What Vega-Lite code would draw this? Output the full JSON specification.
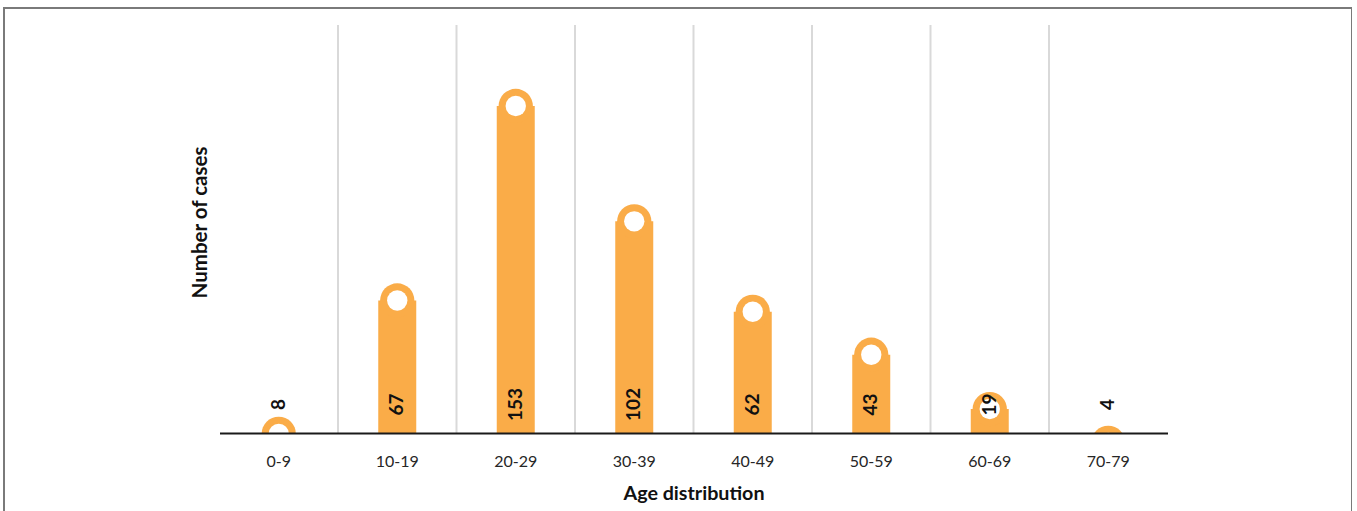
{
  "$schema": "https://vega.github.io/schema/vega-lite/v6.json",
  "autosize": "none",
  "padding": {"left": 4, "top": 8, "right": 0, "bottom": 0},
  "width": 1348,
  "height": 510,
  "background": "white",
  "config": {
    "view": {"stroke": "#7a7a7a", "strokeWidth": 2},
    "font": "Lato"
  },
  "data": {
    "values": [
      {"age": "0-9", "cases": 8},
      {"age": "10-19", "cases": 67},
      {"age": "20-29", "cases": 153},
      {"age": "30-39", "cases": 102},
      {"age": "40-49", "cases": 62},
      {"age": "50-59", "cases": 43},
      {"age": "60-69", "cases": 19},
      {"age": "70-79", "cases": 4}
    ]
  },
  "encoding": {
    "x": {
      "field": "age",
      "type": "nominal",
      "sort": null,
      "scale": {
        "domain": ["0-9", "10-19", "20-29", "30-39", "40-49", "50-59", "60-69", "70-79"],
        "range": [215.5, 1163.5],
        "paddingInner": 0,
        "paddingOuter": 0
      },
      "axis": {
        "title": "Age distribution",
        "titleFontSize": 19.7,
        "titleFontWeight": "bold",
        "titleColor": "#111111",
        "titleY": 60,
        "titleBaseline": "middle",
        "labelAngle": 0,
        "labelFontSize": 16,
        "labelColor": "#262626",
        "labelPadding": 20,
        "ticks": false,
        "grid": false,
        "domainColor": "#1a1a1a",
        "domainWidth": 2,
        "offset": -85,
        "zindex": 1
      }
    }
  },
  "layer": [
    {
      "transform": [{"filter": "datum.age !== '0-9'"}],
      "mark": {"type": "rule", "color": "#d9d9d9", "strokeWidth": 2},
      "encoding": {
        "x": {"field": "age", "type": "nominal", "sort": null, "bandPosition": 0},
        "y": {"datum": 180.4, "type": "quantitative"},
        "y2": {"datum": 0}
      }
    },
    {
      "mark": {"type": "bar", "color": "#FAAC48", "width": 38, "yOffset": 19},
      "encoding": {
        "y": {
          "field": "cases",
          "type": "quantitative",
          "scale": {"domain": [0, 180.4], "range": [425, 17], "nice": false, "zero": true},
          "axis": {
            "title": "Number of  cases",
            "labels": false,
            "ticks": false,
            "domain": false,
            "grid": false,
            "titleFontSize": 20.5,
            "titleFontWeight": "bold",
            "titleColor": "#111111",
            "titleX": 196,
            "titleY": 214,
            "titleAngle": 270,
            "titleAlign": "center",
            "titleBaseline": "middle"
          }
        },
        "y2": {"datum": 0}
      }
    },
    {
      "mark": {"type": "point", "shape": "circle", "filled": true, "opacity": 1, "color": "#FAAC48", "size": 1175, "yOffset": 19},
      "encoding": {
        "y": {"field": "cases", "type": "quantitative"}
      }
    },
    {
      "mark": {"type": "point", "shape": "circle", "filled": true, "opacity": 1, "color": "#ffffff", "size": 415, "yOffset": 19},
      "encoding": {
        "y": {"field": "cases", "type": "quantitative"}
      }
    },
    {
      "mark": {"type": "rect", "color": "#ffffff"},
      "encoding": {
        "y": {"datum": 0, "type": "quantitative"},
        "y2": {"datum": -14}
      }
    },
    {
      "mark": {"type": "text", "angle": 270, "align": "center", "baseline": "middle", "fontSize": 19, "fontWeight": "bold", "color": "#111111", "yOffset": -28.5},
      "encoding": {
        "y": {"datum": 0, "type": "quantitative"},
        "text": {"field": "cases", "type": "quantitative"}
      }
    }
  ]
}
